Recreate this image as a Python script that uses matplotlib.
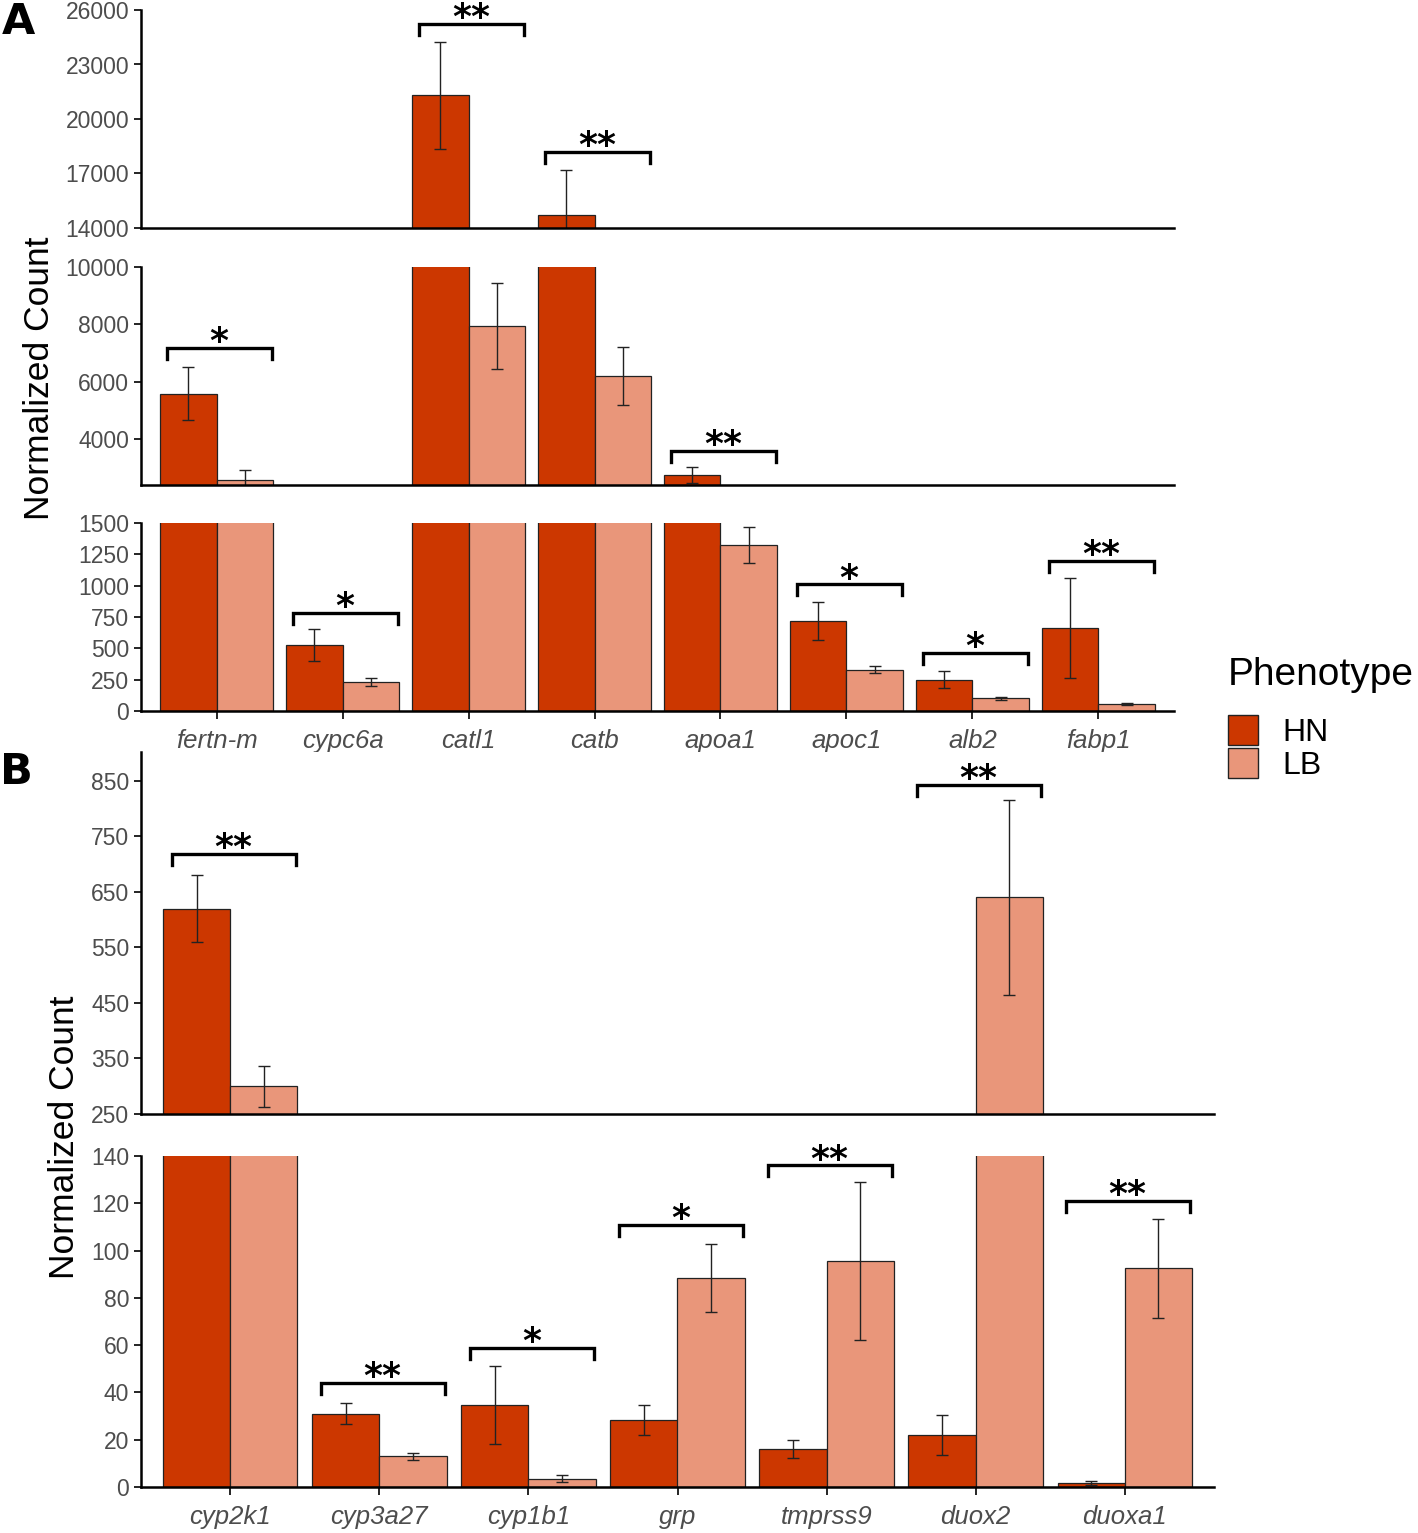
import numpy as np
import matplotlib
matplotlib.use("Agg")
import matplotlib.pyplot as plt
from matplotlib.patches import Patch

plt.rcParams['font.family'] = ['Liberation Sans', 'DejaVu Sans']

HN_COLOR = '#cc3700'
LB_COLOR = '#e9967a'

# ---- panel A data ----
genes_a = ['fertn-m', 'cypc6a', 'catl1', 'catb', 'apoa1', 'apoc1', 'alb2', 'fabp1']
hn_a = [5580, 525, 21300, 14700, 2740, 720, 250, 660]
hn_a_err = [930, 130, 2950, 2500, 280, 150, 70, 400]
lb_a = [2560, 230, 7950, 6200, 1325, 330, 100, 56]
lb_a_err = [350, 32, 1500, 1000, 145, 30, 10, 10]
sig_a_y = [7170, 780, 25230, 18180, 3580, 1010, 465, 1195]
sig_a_lab = ['*', '*', '**', '**', '**', '*', '*', '**']

# ---- panel B data ----
genes_b = ['cyp2k1', 'cyp3a27', 'cyp1b1', 'grp', 'tmprss9', 'duox2', 'duoxa1']
hn_b = [620, 31, 34.5, 28.5, 16, 22, 1.7]
hn_b_err = [60, 4.5, 16.5, 6.3, 3.7, 8.5, 1.0]
lb_b = [300, 13, 3.5, 88.5, 95.5, 640, 92.5]
lb_b_err = [37, 1.5, 1.5, 14.3, 33.5, 176, 21]
sig_b_y = [719, 44, 59, 111, 136, 843, 121]
sig_b_lab = ['**', '**', '*', '*', '**', '**', '**']

W, H = 1418, 1533
fig = plt.figure(figsize=(W / 100, H / 100), dpi=100)


def px_axes(left, top, right, bottom):
    return fig.add_axes([left / W, 1 - bottom / H, (right - left) / W, (bottom - top) / H])


def style(ax, show_x):
    for s in ['top', 'right']:
        ax.spines[s].set_visible(False)
    ax.spines['left'].set_linewidth(1.8)
    ax.spines['bottom'].set_linewidth(1.8)
    ax.tick_params(axis='y', labelsize=16.5, labelcolor='#4d4d4d', length=5, width=1.2)
    if show_x:
        ax.tick_params(axis='x', length=6, width=1.2, labelsize=18.5, labelcolor='#4d4d4d', pad=7)
        for t in ax.get_xticklabels():
            t.set_style('italic')
    else:
        ax.tick_params(axis='x', bottom=False, labelbottom=False)


def draw_bars(ax, n, hn, hn_err, lb, lb_err, w=0.45):
    x = np.arange(1, n + 1)
    ax.bar(x - w / 2, hn, w, color=HN_COLOR, edgecolor='#222222', linewidth=0.9)
    ax.bar(x + w / 2, lb, w, color=LB_COLOR, edgecolor='#222222', linewidth=0.9)
    ax.errorbar(x - w / 2, hn, yerr=hn_err, fmt='none', ecolor='#222222', elinewidth=1, capsize=4.5, capthick=1)
    ax.errorbar(x + w / 2, lb, yerr=lb_err, fmt='none', ecolor='#222222', elinewidth=1, capsize=4.5, capthick=1)
    ax.set_xlim(0.4, n + 0.6)


def draw_sig(axes, sig_y, sig_lab):
    for i, (y, lab) in enumerate(zip(sig_y, sig_lab)):
        for ax in axes:
            lo, hi = ax.get_ylim()
            if lo <= y <= hi:
                break
        hpx = ax.get_position().height * H
        drop = 11 / hpx * (hi - lo)
        xc = i + 1
        ax.plot([xc - 0.39, xc - 0.39, xc + 0.44, xc + 0.44], [y - drop, y, y, y - drop],
                color='black', lw=2.4, clip_on=False, solid_joinstyle='miter')
        ax.annotate(lab, (xc + 0.02, y), xytext=(0, -8), textcoords='offset points',
                    ha='center', va='bottom', fontsize=26, fontweight='bold',
                    family='DejaVu Sans', annotation_clip=False)


# ---- panel A ----
a_top = px_axes(141, 10, 1174, 228)
a_mid = px_axes(141, 267, 1174, 485)
a_bot = px_axes(141, 523, 1174, 711)
for ax in (a_top, a_mid, a_bot):
    draw_bars(ax, len(genes_a), hn_a, hn_a_err, lb_a, lb_a_err)
a_top.set_ylim(14000, 26000)
a_top.set_yticks(np.arange(14000, 26001, 3000))
a_mid.set_ylim(2390, 10000)
a_mid.set_yticks(np.arange(4000, 10001, 2000))
a_bot.set_ylim(0, 1500)
a_bot.set_yticks(np.arange(0, 1501, 250))
a_bot.set_xticks(np.arange(1, len(genes_a) + 1))
a_bot.set_xticklabels(genes_a)
style(a_top, False)
style(a_mid, False)
style(a_bot, True)
draw_sig([a_top, a_mid, a_bot], sig_a_y, sig_a_lab)

# ---- panel B ----
b_top = px_axes(141, 752, 1214, 1114)
b_bot = px_axes(141, 1156, 1214, 1487)
for ax in (b_top, b_bot):
    draw_bars(ax, len(genes_b), hn_b, hn_b_err, lb_b, lb_b_err)
b_top.set_ylim(250, 902)
b_top.set_yticks(np.arange(250, 851, 100))
b_bot.set_ylim(0, 140)
b_bot.set_yticks(np.arange(0, 141, 20))
b_bot.set_xticks(np.arange(1, len(genes_b) + 1))
b_bot.set_xticklabels(genes_b)
style(b_top, False)
style(b_bot, True)
draw_sig([b_top, b_bot], sig_b_y, sig_b_lab)

# axis titles and panel letters
fig.text(40 / W, 1 - 378 / H, 'Normalized Count', rotation=90, ha='center', va='center', fontsize=25.5)
fig.text(65 / W, 1 - 1137 / H, 'Normalized Count', rotation=90, ha='center', va='center', fontsize=25.5)
fig.text(2 / W, 1 - 22 / H, 'A', fontsize=31, fontweight='bold', family='DejaVu Sans', va='center')
fig.text(0 / W, 1 - 772 / H, 'B', fontsize=31, fontweight='bold', family='DejaVu Sans', va='center')

handles = [Patch(facecolor=HN_COLOR, edgecolor='#222222', label='HN'),
           Patch(facecolor=LB_COLOR, edgecolor='#222222', label='LB')]
leg = fig.legend(handles=handles, title='Phenotype', loc='upper left',
                 bbox_to_anchor=(1228 / W, 1 - 657 / H), frameon=False,
                 fontsize=23, title_fontsize=28, handlelength=0.95, handleheight=1.05,
                 handletextpad=0.75, labelspacing=0.0, borderaxespad=0, borderpad=0)
leg._legend_box.align = 'left'
leg._legend_box.sep = 16

fig.savefig('out.png', dpi=100)
